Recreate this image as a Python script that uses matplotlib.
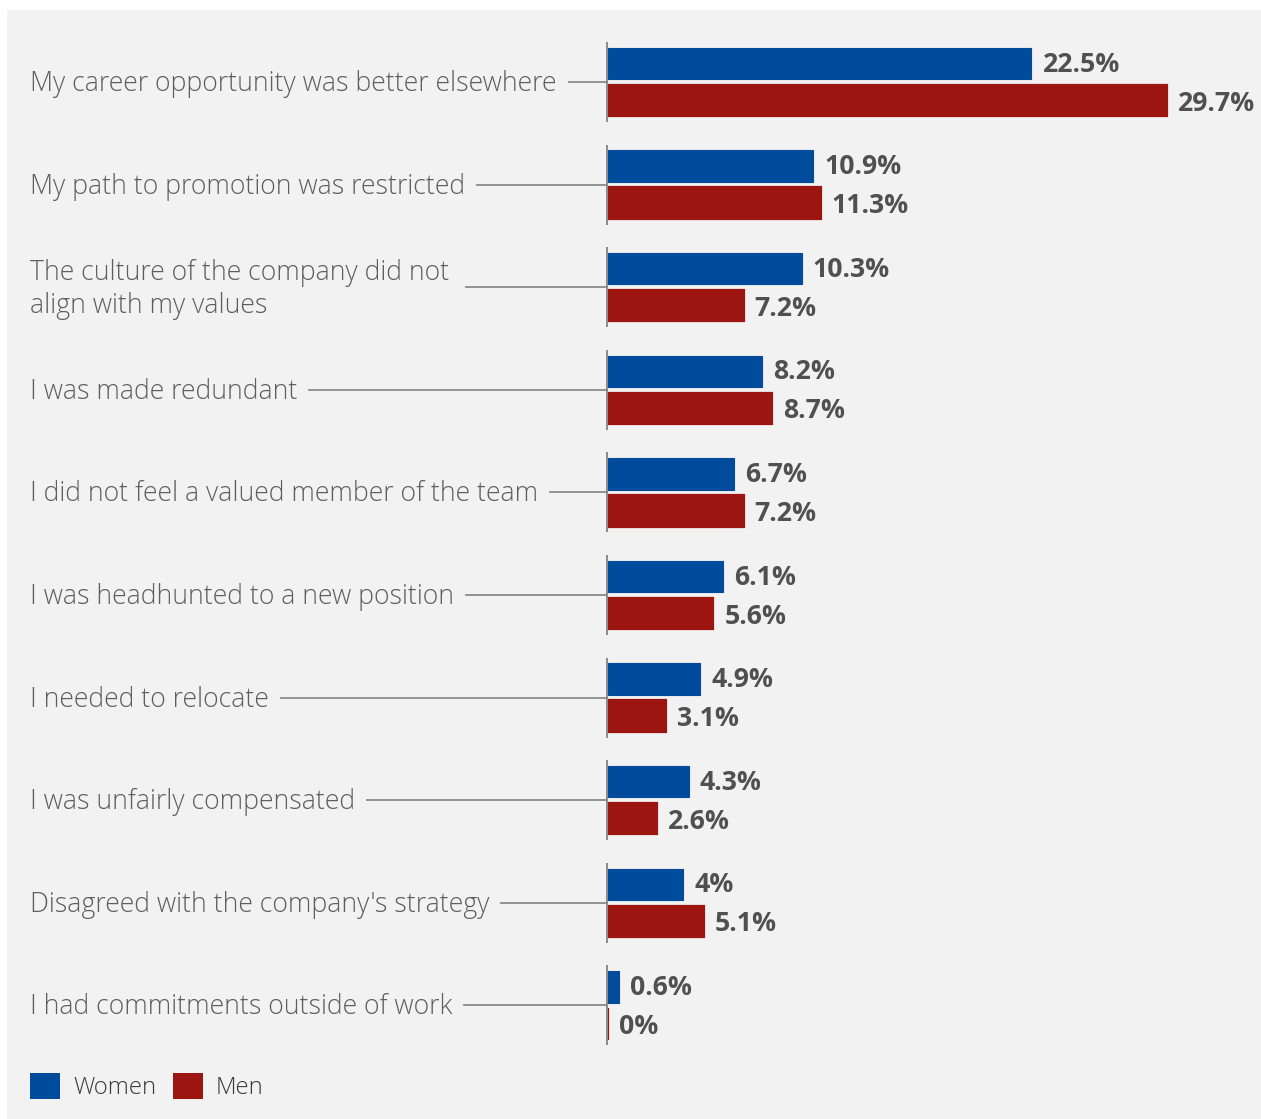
import numpy as np
import matplotlib
matplotlib.use("Agg")
import matplotlib.pyplot as plt
import matplotlib.transforms as mtransforms
from matplotlib.patches import Rectangle, Patch
from matplotlib.lines import Line2D

categories = [
    "My career opportunity was better elsewhere",
    "My path to promotion was restricted",
    "The culture of the company did not\nalign with my values",
    "I was made redundant",
    "I did not feel a valued member of the team",
    "I was headhunted to a new position",
    "I needed to relocate",
    "I was unfairly compensated",
    "Disagreed with the company's strategy",
    "I had commitments outside of work",
]
women = [22.5, 10.9, 10.3, 8.2, 6.7, 6.1, 4.9, 4.3, 4.0, 0.6]
men = [29.7, 11.3, 7.2, 8.7, 7.2, 5.6, 3.1, 2.6, 5.1, 0.0]
series_names = ["Women", "Men"]

BLUE = "#004b9b"
RED = "#9c1511"
BG = "#f2f2f2"
LABEL_C = "#5e5e5e"
VALUE_C = "#505050"
AXIS_C = "#8a8a8a"

W, H, DPI = 1261, 1119, 100
plt.rcParams['font.family'] = ['Open Sans', 'DejaVu Sans']

fig = plt.figure(figsize=(W / DPI, H / DPI), dpi=DPI, facecolor="white")
# grey panel
fig.patches.append(Rectangle((7 / W, 0), 1 - 7 / W, 1 - 10 / H, transform=fig.transFigure,
                             facecolor=BG, edgecolor="none", zorder=-10))

# axes placement in pixels
px_per_pct = 18.82
ax_left, row0, row_step = 608, 82, 102.6
n = len(categories)
top_px = row0 - row_step / 2
bot_px = row0 + (n - 0.5) * row_step
xmax = 34.0
ax = fig.add_axes([ax_left / W, 1 - bot_px / H, xmax * px_per_pct / W, (bot_px - top_px) / H])
ax.set_xlim(0, xmax)
ax.set_ylim(n - 0.5, -0.5)
ax.axis("off")

y = np.arange(n)
bh = 31.5 / row_step
off = 18.5 / row_step
ax.barh(y - off, women, height=bh, color=BLUE, edgecolor=BLUE, linewidth=0.8, zorder=4)
ax.barh(y + off, men, height=bh, color=RED, edgecolor=RED, linewidth=1.6, zorder=4)

def fmt(v):
    return ("%g" % v) + "%"

pad = 11 / px_per_pct
for i in range(n):
    ax.text(women[i] + pad, y[i] - off + 0.01, fmt(women[i]), va="center", ha="left",
            fontsize=19.2, fontweight="bold", color=VALUE_C, clip_on=False)
    ax.text(men[i] + pad, y[i] + off + 0.03, fmt(men[i]), va="center", ha="left",
            fontsize=19.2, fontweight="bold", color=VALUE_C, clip_on=False)

# axis segments per group, just left of the bars
ax_x = -1.2 / px_per_pct
for yi in y:
    ax.plot([ax_x, ax_x], [yi - 0.39, yi + 0.39], color=AXIS_C, linewidth=1.4, zorder=3,
            solid_capstyle="butt", clip_on=False)

# category labels
trans = mtransforms.blended_transform_factory(fig.transFigure, ax.transData)
labels = []
for i, c in enumerate(categories):
    t = fig.text(30 / W, y[i] + 0.02, c, transform=trans, ha="left", va="center",
                 fontsize=19.2, fontweight="light", color=LABEL_C, linespacing=1.22)
    labels.append(t)

fig.canvas.draw()
renderer = fig.canvas.get_renderer()
ax_x0 = ax.transData.transform((ax_x, 0))[0]
for i, t in enumerate(labels):
    bb = t.get_window_extent(renderer)
    if "\n" in categories[i]:
        start = 466
    else:
        start = bb.x1 + 12
    ypix = ax.transData.transform((0, y[i]))[1]
    fig.lines.append(Line2D([start / W, ax_x0 / W], [ypix / H, ypix / H],
                            transform=fig.transFigure, color=AXIS_C, linewidth=1.3))

handles = [Patch(facecolor=BLUE, edgecolor="none"), Patch(facecolor=RED, edgecolor="none")]
fig.legend(handles, series_names, loc="lower left", bbox_to_anchor=(30 / W, 19 / H),
           ncol=2, frameon=False, handlelength=1.25, handleheight=1.25,
           handletextpad=0.55, columnspacing=0.7, borderpad=0, borderaxespad=0,
           labelcolor="#3a3a3a", prop={"weight": "light", "size": 17.2})

fig.savefig("out.png", dpi=DPI, facecolor=fig.get_facecolor())
